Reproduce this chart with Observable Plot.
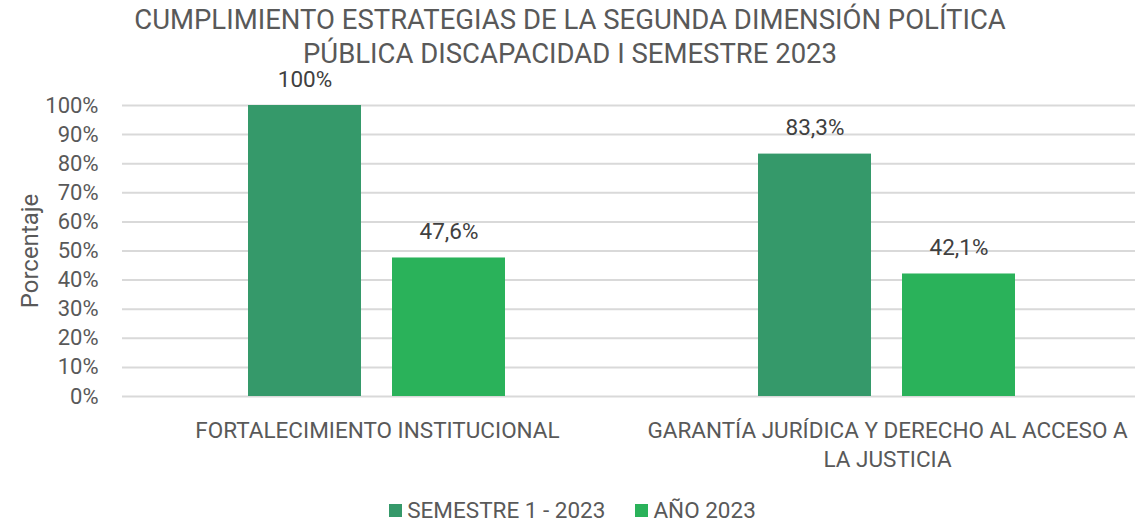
<!DOCTYPE html>
<html>
<head>
<meta charset="utf-8">
<script src="https://cdn.jsdelivr.net/npm/d3@7"></script>
<script src="https://cdn.jsdelivr.net/npm/@observablehq/plot@0.6"></script>
<style>
  html, body { margin: 0; padding: 0; background: #fff; }
  body { width: 1135px; height: 522px; overflow: hidden; font-family: Roboto, sans-serif; color: #595959; }
  #title { text-align: center; font-size: 27.5px; line-height: 34px; padding-top: 3px; height: 67px; box-sizing: border-box; margin-left: 5px; white-space: nowrap; }
  #chart { width: 1135px; overflow: hidden; height: 408px; }
  #chart svg { max-width: none !important; }
  #legend { display: flex; justify-content: center; gap: 30px; font-size: 22.5px; margin-top: 22px; margin-left: 10px; }
  #legend .item { display: flex; align-items: center; gap: 5px; }
  #legend .sw { width: 13px; height: 13px; display: inline-block; }
</style>
</head>
<body>
<div id="title">CUMPLIMIENTO ESTRATEGIAS DE LA SEGUNDA DIMENSIÓN POLÍTICA<br>PÚBLICA DISCAPACIDAD I SEMESTRE 2023</div>
<div id="chart"></div>
<div id="legend"></div>
<script>
const categories = ["FORTALECIMIENTO INSTITUCIONAL", "GARANTÍA JURÍDICA Y DERECHO AL ACCESO A LA JUSTICIA"];
const categoryLabels = ["FORTALECIMIENTO INSTITUCIONAL", "GARANTÍA JURÍDICA Y DERECHO AL ACCESO A\nLA JUSTICIA"];
const seriesNames = ["SEMESTRE 1 - 2023", "AÑO 2023"];
const semestre1 = [100, 83.3];
const anio2023 = [47.6, 42.1];
const valueLabels1 = ["100%", "83,3%"];
const valueLabels2 = ["47,6%", "42,1%"];
const colors = ["#35996a", "#2ab25a"];
const yTicks = [0, 10, 20, 30, 40, 50, 60, 70, 80, 90, 100];

const data = [];
categories.forEach((c, i) => {
  data.push({cat: c, series: seriesNames[0], value: semestre1[i], label: valueLabels1[i]});
  data.push({cat: c, series: seriesNames[1], value: anio2023[i], label: valueLabels2[i]});
});

const chart = Plot.plot({
  width: 1142,
  height: 408,
  marginLeft: 121,
  marginRight: 0,
  marginTop: 38,
  marginBottom: 79,
  style: {fontFamily: "Roboto, sans-serif", color: "#595959", background: "#fff"},
  fx: {domain: categories, paddingInner: 0, paddingOuter: 0},
  x: {domain: seriesNames, paddingInner: 0.214, paddingOuter: 0.866, axis: null},
  y: {domain: [0, 100]},
  color: {domain: seriesNames, range: colors},
  marks: [
    Plot.gridY(yTicks, {stroke: "#d9d9d9", strokeOpacity: 1, strokeWidth: 2}),
    Plot.barY(data, {fx: "cat", x: "series", y: "value", fill: "series"}),
    Plot.text(data, {fx: "cat", x: "series", y: "value", text: "label", dy: -26, fontSize: 22.5, fill: "#404040"}),
    Plot.axisY(yTicks, {tickSize: 0, tickPadding: 24, fontSize: 22, tickFormat: d => d + "%", label: null}),
    Plot.axisY([], {label: "Porcentaje", labelAnchor: "center", labelOffset: 102, labelArrow: "none", fontSize: 24, tickSize: 0}),
    Plot.axisFx({anchor: "bottom", tickSize: 0, tickPadding: 22, fontSize: 22.5, label: null, lineHeight: 1.25, tickFormat: d => categoryLabels[categories.indexOf(d)]})
  ]
});
document.getElementById("chart").appendChild(chart);

const legend = document.getElementById("legend");
seriesNames.forEach((s, i) => {
  const it = document.createElement("div");
  it.className = "item";
  const sw = document.createElement("span");
  sw.className = "sw";
  sw.style.background = colors[i];
  const t = document.createElement("span");
  t.textContent = s;
  it.appendChild(sw); it.appendChild(t);
  legend.appendChild(it);
});
</script>
</body>
</html>
